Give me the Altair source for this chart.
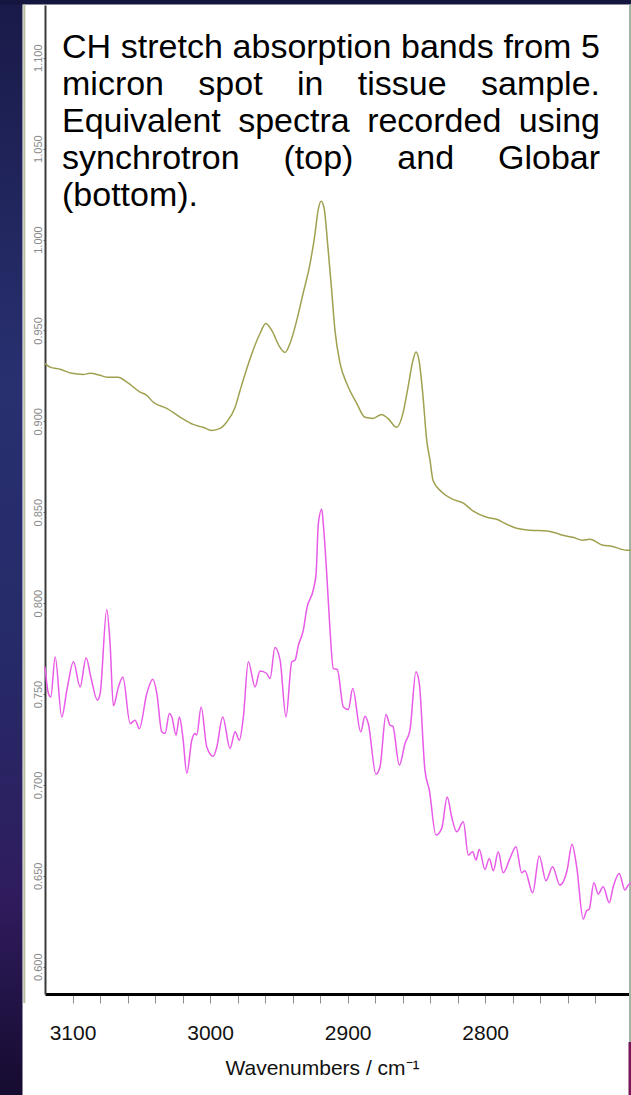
import altair as alt
import pandas as pd

# ---- spectra: wavenumber (cm^-1) and absorbance ----
sync_wn = [3120.0, 3116.3, 3109.0, 3100.5, 3092.3, 3087.2, 3079.9, 3075.1, 3066.9, 3060.5,
           3050.9, 3046.0, 3041.4, 3031.5, 3021.8, 3012.4, 3005.1, 2998.8, 2992.7, 2987.9,
           2981.8, 2978.2, 2976.0, 2968.8, 2963.7, 2959.5, 2955.2, 2949.1, 2945.5, 2941.9,
           2937.0, 2932.4, 2927.3, 2923.7, 2921.5, 2919.3, 2917.2, 2914.3, 2911.6, 2909.2,
           2905.5, 2900.7, 2893.4, 2887.4, 2881.6, 2875.2, 2870.7, 2864.3, 2859.8, 2856.1,
           2852.5, 2850.3, 2848.1, 2845.4, 2842.5, 2840.1, 2837.9, 2831.6, 2823.4, 2816.2,
           2808.9, 2798.9, 2791.7, 2784.4, 2777.1, 2767.5, 2755.3, 2748.1, 2743.5, 2736.2,
           2729.0, 2723.9, 2714.4, 2708.1, 2697.2, 2694.0]
sync_abs = [0.9319, 0.9298, 0.9286, 0.9264, 0.9258, 0.9264, 0.9253, 0.9243, 0.9243, 0.9216,
            0.9161, 0.9143, 0.9106, 0.9071, 0.9023, 0.8983, 0.8967, 0.8950, 0.8961, 0.8996,
            0.9078, 0.9170, 0.9225, 0.9390, 0.9483, 0.9538, 0.9500, 0.9406, 0.9379, 0.9428,
            0.9555, 0.9703, 0.9868, 1.0033, 1.0160, 1.0211, 1.0176, 0.9956, 0.9720, 0.9500,
            0.9319, 0.9209, 0.9099, 0.9022, 0.9016, 0.9038, 0.9016, 0.8967, 0.9044, 0.9187,
            0.9335, 0.9381, 0.9335, 0.9154, 0.8895, 0.8785, 0.8675, 0.8611, 0.8571, 0.8551,
            0.8507, 0.8472, 0.8461, 0.8434, 0.8412, 0.8401, 0.8397, 0.8384, 0.8373, 0.8362,
            0.8346, 0.8351, 0.8318, 0.8313, 0.8291, 0.8291]

glob_wn = [3120.0, 3117.5, 3115.8, 3112.6, 3107.8, 3104.1, 3099.3, 3094.5, 3090.1, 3086.7,
           3081.9, 3079.9, 3075.1, 3072.7, 3070.3, 3066.6, 3063.4, 3058.1, 3054.5, 3051.4,
           3046.0, 3041.6, 3038.7, 3035.1, 3032.7, 3029.6, 3027.8, 3024.7, 3022.3, 3019.8,
           3016.9, 3013.3, 3010.9, 3009.7, 3006.5, 3002.4, 2997.6, 2995.1, 2990.8, 2985.5,
           2981.8, 2978.7, 2975.8, 2972.2, 2967.3, 2963.7, 2958.8, 2956.4, 2952.8, 2949.1,
           2944.8, 2940.6, 2938.2, 2935.8, 2932.2, 2929.7, 2924.9, 2922.9, 2921.3, 2918.8,
           2917.7, 2915.2, 2912.8, 2910.4, 2907.5, 2903.1, 2899.5, 2896.3, 2890.5, 2887.4,
           2885.0, 2879.4, 2876.5, 2872.1, 2869.2, 2867.2, 2862.4, 2858.3, 2854.7, 2850.3,
           2847.9, 2843.8, 2840.6, 2835.8, 2831.6, 2827.6, 2824.4, 2820.7, 2815.9, 2812.3,
           2809.1, 2806.7, 2804.3, 2800.2, 2797.0, 2794.1, 2790.5, 2786.9, 2782.0, 2777.6,
           2773.5, 2771.1, 2765.5, 2760.7, 2755.8, 2751.0, 2745.7, 2740.4, 2736.9, 2733.5,
           2728.7, 2726.3, 2724.4, 2721.0, 2717.8, 2714.2, 2709.8, 2706.9, 2702.6, 2698.4,
           2696.0, 2694.0]
glob_abs = [0.7649, 0.7503, 0.7484, 0.7704, 0.7374, 0.7521, 0.7677, 0.7539, 0.7699, 0.7594,
            0.7466, 0.7503, 0.7965, 0.7778, 0.7435, 0.7539, 0.7594, 0.7338, 0.7356, 0.7310,
            0.7503, 0.7581, 0.7503, 0.7292, 0.7283, 0.7393, 0.7374, 0.7274, 0.7374, 0.7264,
            0.7063, 0.7246, 0.7283, 0.7274, 0.7429, 0.7209, 0.7158, 0.7209, 0.7374, 0.7201,
            0.7292, 0.7246, 0.7374, 0.7677, 0.7539, 0.7627, 0.7613, 0.7585, 0.7756, 0.7686,
            0.7374, 0.7677, 0.7686, 0.7768, 0.7851, 0.7970, 0.8075, 0.8165, 0.8437, 0.8516,
            0.8437, 0.8163, 0.7851, 0.7640, 0.7635, 0.7429, 0.7415, 0.7530, 0.7292, 0.7378,
            0.7338, 0.7059, 0.7099, 0.7387, 0.7329, 0.7323, 0.7109, 0.7228, 0.7301, 0.7622,
            0.7558, 0.7081, 0.6971, 0.6724, 0.6761, 0.6934, 0.6825, 0.6742, 0.6797, 0.6614,
            0.6632, 0.6587, 0.6645, 0.6535, 0.6596, 0.6528, 0.6632, 0.6517, 0.6596, 0.6660,
            0.6517, 0.6528, 0.6407, 0.6609, 0.6473, 0.6550, 0.6449, 0.6532, 0.6674, 0.6550,
            0.6261, 0.6308, 0.6316, 0.6462, 0.6400, 0.6440, 0.6352, 0.6440, 0.6513, 0.6422,
            0.6449, 0.6460]

series_names = ["Synchrotron", "Globar"]
series_colors = ["#a0a050", "#e85ae8"]

x_tick_values = [2720, 2740, 2760, 2780, 2800, 2820, 2840, 2860, 2880, 2900,
                 2920, 2940, 2960, 2980, 3000, 3020, 3040, 3060, 3080, 3100]
y_tick_values = [0.60, 0.65, 0.70, 0.75, 0.80, 0.85, 0.90, 0.95, 1.00, 1.05, 1.10]

caption_lines = [
    "CH stretch absorption bands from 5",
    "micron spot in tissue sample.",
    "Equivalent spectra recorded using",
    "synchrotron (top) and Globar",
    "(bottom).",
]

# ---- layout ----
WIN_W, WIN_H = 631, 1095
PAD_L, PAD_T, PAD_R, PAD_B = 45, 5, 0, 101
PLOT_W = WIN_W - PAD_L - PAD_R
PLOT_H = WIN_H - PAD_T - PAD_B

FONT = "Liberation Sans"
CAP_SIZE = 34
CAP_LEFT, CAP_RIGHT = 62, 600
CAP_BASE, CAP_LEAD = 58, 37

# Arial / Liberation Sans advance widths (1/1000 em) for justification
ADV = {" ": 278, "(": 333, ")": 333, ".": 278, "5": 556,
       "C": 722, "H": 722, "E": 667, "G": 778,
       "a": 556, "b": 556, "c": 500, "d": 556, "e": 556, "f": 278, "g": 556,
       "h": 556, "i": 222, "l": 222, "m": 833, "n": 556, "o": 556, "p": 556,
       "q": 556, "r": 333, "s": 500, "t": 278, "u": 556, "v": 500, "y": 500}


def text_width(s, size):
    return sum(ADV.get(ch, 556) for ch in s) * size / 1000.0


frames = []
for name, wn, ab in [(series_names[0], sync_wn, sync_abs), (series_names[1], glob_wn, glob_abs)]:
    frames.append(pd.DataFrame({"wn": wn, "absorbance": ab, "source": name}))
spectra = pd.concat(frames, ignore_index=True)

x_scale = alt.Scale(domain=[3120, 2694], nice=False, zero=False)
y_scale = alt.Scale(domain=[0.585, 1.129], nice=False, zero=False)

lines = alt.Chart(spectra).mark_line(strokeWidth=1.5, interpolate="monotone").encode(
    x=alt.X("wn:Q", scale=x_scale,
            axis=alt.Axis(values=x_tick_values,
                          labelExpr="datum.value % 100 == 0 ? format(datum.value, 'd') : ''",
                          grid=False, domainColor="#000000", domainWidth=3,
                          tickColor="#8c8c8c", tickSize=9, tickWidth=1,
                          labelFont=FONT, labelFontSize=21, labelColor="#111111",
                          labelPadding=19, labelFlush=False, labelOverlap=False,
                          title="Wavenumbers / cm⁻¹", titleFont=FONT, titleFontSize=21,
                          titleFontWeight="normal", titleColor="#111111", titlePadding=14,
                          titleX=277, titleAlign="center")),
    y=alt.Y("absorbance:Q", scale=y_scale,
            axis=alt.Axis(values=y_tick_values, format=".3f", grid=False,
                          domainColor="#3a3a3a", domainWidth=2,
                          tickColor="#777777", tickSize=2, tickWidth=1,
                          labelAngle=270, labelAlign="center", labelBaseline="bottom",
                          labelPadding=0, labelFont=FONT, labelFontSize=11,
                          labelColor="#8a8a8a", labelOverlap=False, title=None)),
    color=alt.Color("source:N", scale=alt.Scale(domain=series_names, range=series_colors),
                    legend=None),
    order=alt.Order("wn:Q", sort="descending"),
)

one = pd.DataFrame({"k": [0]})

# slide backdrop around the plot image
side_strip = alt.Chart(one).mark_rect(
    color=alt.Gradient(gradient="linear", x1=0, x2=0, y1=0, y2=1,
                       stops=[alt.GradientStop(offset=0.0, color="#191a48"),
                              alt.GradientStop(offset=0.35, color="#283070"),
                              alt.GradientStop(offset=0.6, color="#262a68"),
                              alt.GradientStop(offset=0.82, color="#2f1c5e"),
                              alt.GradientStop(offset=1.0, color="#160b30")])
).encode(x=alt.value(-PAD_L), x2=alt.value(22.5 - PAD_L),
         y=alt.value(-PAD_T), y2=alt.value(WIN_H - PAD_T))

top_strip = alt.Chart(one).mark_rect(color="#15163f").encode(
    x=alt.value(-PAD_L), x2=alt.value(WIN_W - PAD_L),
    y=alt.value(-PAD_T), y2=alt.value(4.5 - PAD_T))

left_border = alt.Chart(one).mark_rule(color="#babaa0", strokeWidth=2).encode(
    x=alt.value(24.3 - PAD_L), y=alt.value(4.5 - PAD_T), y2=alt.value(1003 - PAD_T))

right_border = alt.Chart(one).mark_rule(color="#a4b4a4", strokeWidth=2).encode(
    x=alt.value(630 - PAD_L), y=alt.value(4.5 - PAD_T), y2=alt.value(1042 - PAD_T))

right_accent = alt.Chart(one).mark_rule(color="#7a1458", strokeWidth=3).encode(
    x=alt.value(630 - PAD_L), y=alt.value(1042 - PAD_T), y2=alt.value(WIN_H - PAD_T))

# justified caption, one text mark per word
caption_layers = []
for i, line in enumerate(caption_lines):
    words = line.split(" ")
    widths = [text_width(w, CAP_SIZE) for w in words]
    is_last = i == len(caption_lines) - 1
    if len(words) > 1 and not is_last:
        gap = (CAP_RIGHT - CAP_LEFT - sum(widths)) / (len(words) - 1)
    else:
        gap = text_width(" ", CAP_SIZE)
    xpos = CAP_LEFT
    for w, wd in zip(words, widths):
        caption_layers.append(
            alt.Chart(one).mark_text(align="left", baseline="alphabetic", font=FONT,
                                     fontSize=CAP_SIZE, color="#000000", text=w)
            .encode(x=alt.value(xpos - PAD_L), y=alt.value(CAP_BASE + i * CAP_LEAD - PAD_T))
        )
        xpos += wd + gap

chart = alt.layer(side_strip, top_strip, left_border, right_border, right_accent,
                  lines, *caption_layers).properties(
    width=PLOT_W, height=PLOT_H,
    autosize=alt.AutoSizeParams(type="none"),
    padding={"left": PAD_L, "top": PAD_T, "right": PAD_R, "bottom": PAD_B},
    background="#ffffff",
).configure_view(stroke=None)

chart.save("out.html", embed_options={"renderer": "svg", "actions": False})
